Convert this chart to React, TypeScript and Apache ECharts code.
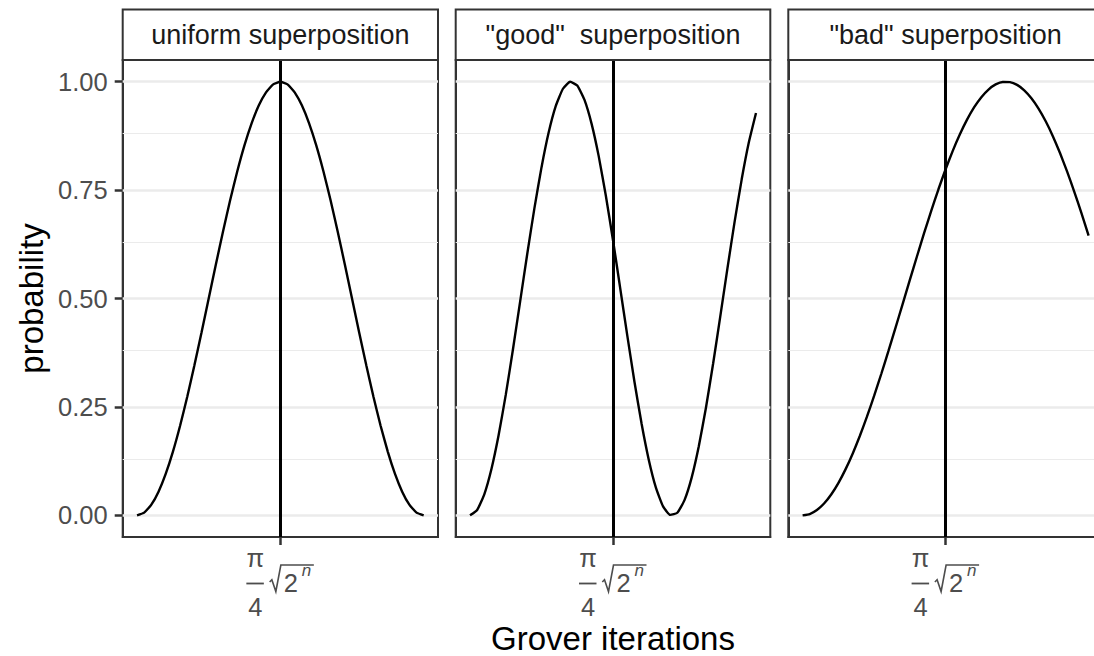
import React, { useEffect, useRef } from "react";
import * as echarts from "echarts";

// ---------- data ----------
const panelTitles = ["uniform superposition", "\"good\"  superposition", "\"bad\" superposition"];
const xTitle = "Grover iterations";
const yTitle = "probability";
const optimalIteration = 1; // position of pi/4 * sqrt(2^n)

const iterations = [
  0, 0.05, 0.1, 0.15, 0.2, 0.25, 0.3, 0.35, 0.4, 0.45, 0.5, 0.55, 0.6, 0.65, 0.7, 0.75, 0.8, 0.85, 0.9, 0.95,
  1, 1.05, 1.1, 1.15, 1.2, 1.25, 1.3, 1.35, 1.4, 1.45, 1.5, 1.55, 1.6, 1.65, 1.7, 1.75, 1.8, 1.85, 1.9, 1.95, 2,
];
const uniformProb = [
  0, 0.0062, 0.0245, 0.0545, 0.0955, 0.1464, 0.2061, 0.273, 0.3455, 0.4218, 0.5, 0.5782, 0.6545, 0.727, 0.7939,
  0.8536, 0.9045, 0.9455, 0.9755, 0.9938, 1, 0.9938, 0.9755, 0.9455, 0.9045, 0.8536, 0.7939, 0.727, 0.6545, 0.5782,
  0.5, 0.4218, 0.3455, 0.273, 0.2061, 0.1464, 0.0955, 0.0545, 0.0245, 0.0062, 0,
];
const goodProb = [
  0, 0.0123, 0.0485, 0.1069, 0.1845, 0.2777, 0.3818, 0.4917, 0.602, 0.7073, 0.8023, 0.8827, 0.944, 0.9837, 0.9997,
  0.9912, 0.9585, 0.9033, 0.8283, 0.737, 0.6344, 0.5246, 0.4145, 0.3081, 0.2112, 0.1284, 0.0639, 0.0207, 0.0011,
  0.006, 0.0351, 0.087, 0.1593, 0.2482, 0.3494, 0.4582, 0.5688, 0.6762, 0.7748, 0.8601, 0.9278,
];
const badProb = [
  0, 0.003, 0.0122, 0.0272, 0.048, 0.0743, 0.1059, 0.1422, 0.1829, 0.2274, 0.2753, 0.3259, 0.3785, 0.4327, 0.4877,
  0.5429, 0.5974, 0.6511, 0.7028, 0.7519, 0.7981, 0.8405, 0.8787, 0.9124, 0.9411, 0.9643, 0.9819, 0.9937, 0.9994,
  0.999, 0.9926, 0.9801, 0.9618, 0.938, 0.9086, 0.8744, 0.8354, 0.7926, 0.7461, 0.6967, 0.6448,
];
const panelSeries = [uniformProb, goodProb, badProb];
const yTicks = [0, 0.25, 0.5, 0.75, 1];
const yMinor = [0.125, 0.375, 0.625, 0.875];

// ---------- layout ----------
const FONT = "Liberation Sans, Arial, sans-serif";
const CANVAS_W = 1110; // wider than the window: the last panel runs past the right edge
const PANELS = [
  { left: 122.7, width: 315.3 },
  { left: 455.7, width: 314.6 },
  { left: 788.3, width: 314.6 },
];
const TOP = 60;
const HEIGHT = 477;
const STRIP_TOP = 9.5;
const GREY_TXT = "#4d4d4d";
const BORDER = "#333333";

function buildOption(extraGraphic: any[]) {
  const grid = PANELS.map((p) => ({
    left: p.left,
    top: TOP,
    width: p.width,
    height: HEIGHT,
    show: true,
    borderColor: BORDER,
    borderWidth: 2,
    backgroundColor: "#ffffff",
  }));
  const xAxis = PANELS.map((_, i) => ({
    type: "value",
    gridIndex: i,
    min: -0.1,
    max: 2.1,
    axisLine: { show: true, onZero: false, lineStyle: { color: BORDER, width: 2 } },
    axisTick: { show: true, customValues: [optimalIteration], length: 8, lineStyle: { color: BORDER, width: 2.5 } },
    axisLabel: { show: false },
    splitLine: { show: false },
  }));
  const yAxis = PANELS.map((_, i) => ({
    type: "value",
    gridIndex: i,
    min: -0.05,
    max: 1.05,
    axisLine: { show: true, onZero: false, lineStyle: { color: BORDER, width: 2 } },
    axisTick:
      i === 0
        ? { show: true, customValues: yTicks, length: 8, lineStyle: { color: BORDER, width: 2.5 } }
        : { show: false },
    axisLabel:
      i === 0
        ? {
            show: true,
            customValues: yTicks,
            formatter: (v: number) => v.toFixed(2),
            margin: 15,
            fontSize: 25.5,
            color: GREY_TXT,
            fontFamily: FONT,
          }
        : { show: false },
    splitLine: { show: false },
  }));
  const series: any[] = [];
  PANELS.forEach((_, i) => {
    series.push({
      type: "line",
      xAxisIndex: i,
      yAxisIndex: i,
      data: [],
      silent: true,
      z: 1,
      markLine: {
        silent: true,
        symbol: "none",
        z: 1,
        label: { show: false },
        animation: false,
        data: [
          ...yTicks.map((v) => ({ yAxis: v, lineStyle: { color: "#ebebeb", width: 2.5, type: "solid" } })),
          ...yMinor.map((v) => ({ yAxis: v, lineStyle: { color: "#ebebeb", width: 1.2, type: "solid" } })),
        ],
      },
    });
    series.push({
      type: "line",
      xAxisIndex: i,
      yAxisIndex: i,
      data: iterations.map((x, k) => [x, panelSeries[i][k]]),
      showSymbol: false,
      symbol: "none",
      smooth: 0.15,
      z: 3,
      lineStyle: { color: "#000000", width: 2.4 },
      markLine: {
        silent: true,
        symbol: "none",
        z: 4,
        label: { show: false },
        animation: false,
        data: [{ xAxis: optimalIteration, lineStyle: { color: "#000000", width: 3, type: "solid" } }],
      },
    });
  });

  const graphic: any[] = [];
  PANELS.forEach((p, i) => {
    graphic.push({
      type: "rect",
      shape: { x: p.left, y: STRIP_TOP, width: p.width, height: TOP - STRIP_TOP },
      style: { fill: "#ffffff", stroke: BORDER, lineWidth: 2 },
      z: 10,
    });
    graphic.push({
      type: "text",
      x: p.left + p.width / 2,
      y: (STRIP_TOP + TOP) / 2,
      style: {
        text: panelTitles[i],
        fill: "#1a1a1a",
        fontSize: 27,
        fontFamily: FONT,
        align: "center",
        verticalAlign: "middle",
      },
      z: 11,
    });
  });
  graphic.push({
    type: "text",
    x: PANELS[1].left + PANELS[1].width / 2,
    y: 638,
    style: { text: xTitle, fill: "#000000", fontSize: 33, fontFamily: FONT, align: "center", verticalAlign: "middle" },
  });
  graphic.push({
    type: "text",
    x: 31,
    y: TOP + HEIGHT / 2,
    rotation: Math.PI / 2,
    style: { text: yTitle, fill: "#000000", fontSize: 33, fontFamily: FONT, align: "center", verticalAlign: "middle" },
  });

  return {
    animation: false,
    backgroundColor: "#ffffff",
    grid,
    xAxis,
    yAxis,
    series,
    graphic: [...graphic, ...extraGraphic],
  };
}

function formulaLabel(cx: number): any[] {
  const txt = (text: string, x: number, y: number, align: string, size = 25.5, italic = false) => ({
    type: "text",
    x,
    y,
    style: {
      text,
      fill: GREY_TXT,
      fontSize: size,
      fontStyle: italic ? "italic" : "normal",
      fontFamily: FONT,
      align,
      verticalAlign: "middle",
    },
  });
  return [
    txt("π", cx - 25, 558, "center"),
    { type: "line", shape: { x1: cx - 34, y1: 583.5, x2: cx - 16.5, y2: 583.5 }, style: { stroke: GREY_TXT, lineWidth: 1.8 } },
    txt("4", cx - 25, 606.5, "center"),
    {
      type: "polyline",
      shape: {
        points: [
          [cx - 10.7, 582],
          [cx - 8.5, 579.8],
          [cx - 4.5, 591.5],
          [cx + 0.5, 565],
          [cx + 33.5, 565],
        ],
      },
      style: { stroke: GREY_TXT, lineWidth: 1.6, fill: null },
    },
    txt("2", cx + 3.5, 583, "left"),
    txt("n", cx + 21.5, 570, "left", 17, true),
  ];
}

export default function App() {
  const ref = useRef<HTMLDivElement>(null);
  useEffect(() => {
    if (!ref.current) return;
    document.body.style.overflow = "hidden";
    const chart = echarts.init(ref.current, null, { renderer: "svg" });
    chart.setOption(buildOption([]));
    const extra: any[] = [];
    PANELS.forEach((_, i) => {
      const cx = chart.convertToPixel({ xAxisIndex: i } as any, optimalIteration) as unknown as number;
      extra.push(...formulaLabel(cx));
    });
    chart.setOption(buildOption(extra), true);
    return () => chart.dispose();
  }, []);
  return (
    <div
      ref={ref}
      style={{ position: "fixed", left: 0, top: 0, width: CANVAS_W, height: 656, background: "#ffffff" }}
    />
  );
}
